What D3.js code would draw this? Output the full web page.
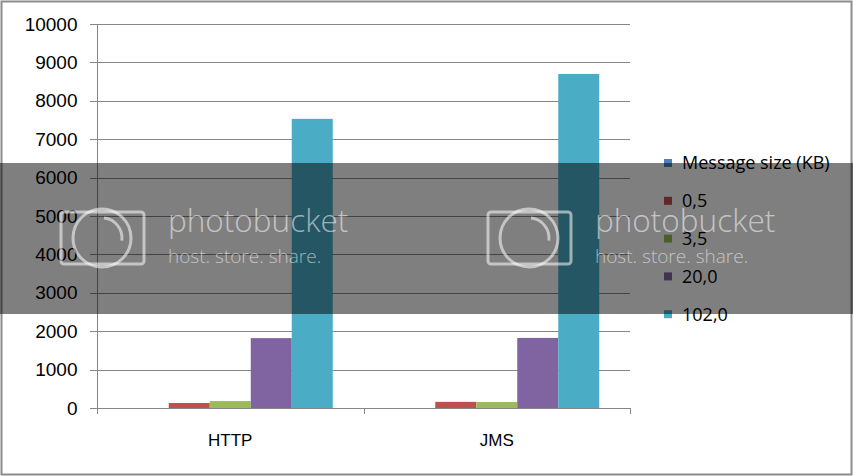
<!DOCTYPE html>
<html>
<head>
<meta charset="utf-8">
<script src="https://cdn.jsdelivr.net/npm/d3@7"></script>
<style>
  body { margin: 0; background: #fff; }
  svg { display: block; font-family: "Open Sans", sans-serif; }
</style>
</head>
<body>
<svg id="chart" width="853" height="476"></svg>
<script>
// data
const categories = ["HTTP", "JMS"];
const seriesNames = ["Message size (KB)", "0,5", "3,5", "20,0", "102,0"];
const seriesColors = ["#4f81bd", "#c0504d", "#9bbb59", "#8064a2", "#4bacc6"];
const httpValues = [0, 130, 180, 1820, 7530];
const jmsValues = [0, 160, 155, 1825, 8700];
const yTickValues = [0, 1000, 2000, 3000, 4000, 5000, 6000, 7000, 8000, 9000, 10000];

const table = categories.map((c, i) => ({
  name: c,
  values: seriesNames.map((s, j) => ({ series: s, value: [httpValues, jmsValues][i][j] }))
}));

const svg = d3.select("#chart");
const gridColor = "#868686";

// outer frame
svg.append("rect")
  .attr("x", 1.5).attr("y", 1.5)
  .attr("width", 850).attr("height", 473)
  .attr("fill", "#fff")
  .attr("stroke", "#8c8c8c")
  .attr("stroke-width", 2);

const x = d3.scaleBand().domain(categories).range([97, 630]);
const xSub = d3.scaleBand().domain(seriesNames).range([0, x.bandwidth()]).paddingOuter(0.75);
const y = d3.scaleLinear().domain([0, 10000]).range([408, 24]);

// gridlines
svg.append("g")
  .selectAll("line")
  .data(yTickValues)
  .join("line")
  .attr("x1", 90).attr("x2", 630)
  .attr("y1", d => Math.round(y(d)) + 0.5)
  .attr("y2", d => Math.round(y(d)) + 0.5)
  .attr("stroke", gridColor);

// y axis
const yAxis = svg.append("g")
  .attr("transform", "translate(97.5,0)")
  .call(d3.axisLeft(y).tickValues(yTickValues).tickSize(0).tickPadding(20).tickFormat(d3.format("d")));
yAxis.select(".domain").remove();
yAxis.selectAll("text").attr("font-size", 19).attr("fill", "#000");
svg.append("line")
  .attr("x1", 97.5).attr("x2", 97.5)
  .attr("y1", y(10000)).attr("y2", 414)
  .attr("stroke", gridColor);

// x axis
const xAxis = svg.append("g")
  .attr("transform", "translate(0,408.5)")
  .call(d3.axisBottom(x).tickSize(0).tickPadding(25));
xAxis.select(".domain").remove();
xAxis.selectAll("text").attr("font-size", 17).attr("fill", "#000");
svg.append("g")
  .selectAll("line")
  .data(categories)
  .join("line")
  .attr("x1", d => Math.round(x(d) + x.bandwidth()) + 0.5)
  .attr("x2", d => Math.round(x(d) + x.bandwidth()) + 0.5)
  .attr("y1", 408).attr("y2", 414)
  .attr("stroke", gridColor);

// bars
svg.append("g")
  .selectAll("g")
  .data(table)
  .join("g")
  .attr("transform", d => `translate(${x(d.name)},0)`)
  .selectAll("rect")
  .data(d => d.values)
  .join("rect")
  .attr("x", d => xSub(d.series))
  .attr("width", xSub.bandwidth())
  .attr("y", d => y(d.value))
  .attr("height", d => y(0) - y(d.value))
  .attr("fill", (d, i) => seriesColors[i]);

// legend
const legend = svg.append("g")
  .selectAll("g")
  .data(seriesNames)
  .join("g")
  .attr("transform", (d, i) => `translate(664,${163 + i * 37.8})`);
legend.append("rect")
  .attr("x", 0).attr("y", -4)
  .attr("width", 8).attr("height", 8)
  .attr("fill", (d, i) => seriesColors[i]);
legend.append("text")
  .attr("x", 18).attr("dy", "0.35em")
  .attr("font-size", 18)
  .text(d => d);

// photobucket watermark band
const wm = svg.append("g");
wm.append("rect")
  .attr("x", 0).attr("y", 163)
  .attr("width", 853).attr("height", 151)
  .attr("fill", "#000").attr("opacity", 0.5);
[0, 427].forEach(dx => {
  const g = wm.append("g")
    .attr("transform", `translate(${dx},0)`)
    .attr("fill", "none")
    .attr("stroke", "#fff")
    .attr("stroke-opacity", 0.55)
    .attr("stroke-width", 3);
  g.append("rect").attr("x", 61).attr("y", 212).attr("width", 83).attr("height", 52).attr("rx", 3);
  g.append("circle").attr("cx", 102).attr("cy", 238).attr("r", 29);
  g.append("path").attr("d", d3.arc()({ innerRadius: 20, outerRadius: 20, startAngle: 0.1, endAngle: 1.7 }))
    .attr("transform", "translate(102,238)");
  g.append("text")
    .attr("x", 168).attr("y", 232)
    .attr("stroke", "none").attr("fill", "#fff").attr("fill-opacity", 0.55)
    .attr("font-size", 31.5)
    .attr("font-weight", 300)
    .text("photobucket");
  g.append("text")
    .attr("x", 168).attr("y", 263)
    .attr("stroke", "none").attr("fill", "#fff").attr("fill-opacity", 0.55)
    .attr("font-size", 19)
    .attr("font-weight", 300)
    .text("host. store. share.");
});
</script>
</body>
</html>
